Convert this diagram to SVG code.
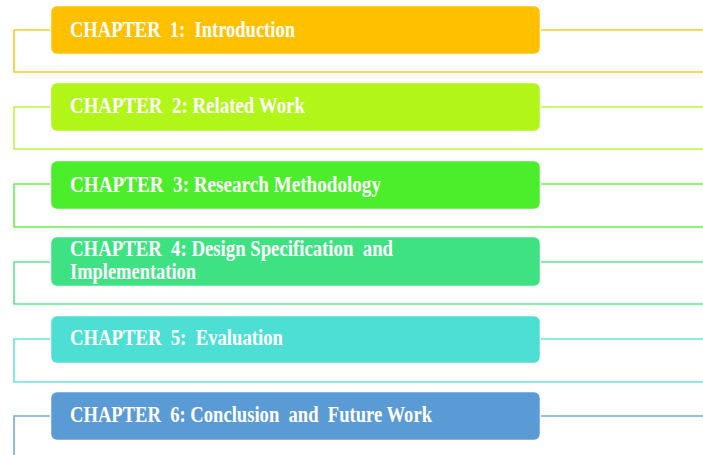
<svg xmlns="http://www.w3.org/2000/svg" width="703" height="455" viewBox="0 0 703 455" xml:space="preserve">
  <style>
    .box { stroke: #ffffff; stroke-opacity: 0.5; stroke-width: 1; }
    .lbl { font-family: "Liberation Serif", "Times New Roman", serif; font-weight: bold; font-size: 24px; fill: #ffffff; white-space: pre; }
    .con { fill: none; stroke-width: 1.6; stroke-opacity: 0.85; }
  </style>
  <rect width="703" height="455" fill="#ffffff"/>

  <!-- connectors: left brackets and right leaders -->
  <g id="connectors">
    <path class="con" stroke="#FFC000" d="M50,30 H14 V72 H703 M541,30 H703"/>
    <path class="con" stroke="#B2F519" d="M50,107 H14 V149 H703 M541,107 H703"/>
    <path class="con" stroke="#4CEE2B" d="M50,184 H14 V227 H703 M541,184 H703"/>
    <path class="con" stroke="#3EE283" d="M50,262 H14 V304 H703 M541,262 H703"/>
    <path class="con" stroke="#4DDFD3" d="M50,339 H14 V382 H703 M541,339 H703"/>
    <path class="con" stroke="#5B9BD5" d="M50,416 H14 V455 M541,416 H703"/>
  </g>

  <g id="chapter1">
    <rect class="box" x="51" y="6" width="489" height="48" rx="6" fill="#FFC000"/>
    <text class="lbl" x="70" y="37" textLength="225" lengthAdjust="spacingAndGlyphs">CHAPTER  1:  Introduction</text>
  </g>
  <g id="chapter2">
    <rect class="box" x="51" y="83" width="489" height="48" rx="6" fill="#B2F519"/>
    <text class="lbl" x="70" y="113" textLength="235" lengthAdjust="spacingAndGlyphs">CHAPTER  2: Related Work</text>
  </g>
  <g id="chapter3">
    <rect class="box" x="51" y="161" width="489" height="48" rx="6" fill="#4CEE2B"/>
    <text class="lbl" x="70" y="192" textLength="311" lengthAdjust="spacingAndGlyphs">CHAPTER  3: Research Methodology</text>
  </g>
  <g id="chapter4">
    <rect class="box" x="51" y="237" width="489" height="49" rx="6" fill="#3EE283"/>
    <!-- two-line label, one text element -->
    <text class="lbl" style="font-size:23px"><tspan x="70" y="256" textLength="323" lengthAdjust="spacingAndGlyphs">CHAPTER  4: Design Specification  and</tspan><tspan x="70" y="279" textLength="126" lengthAdjust="spacingAndGlyphs">Implementation</tspan></text>
  </g>
  <g id="chapter5">
    <rect class="box" x="51" y="316" width="489" height="47" rx="6" fill="#4DDFD3"/>
    <text class="lbl" x="70" y="345" textLength="213" lengthAdjust="spacingAndGlyphs">CHAPTER  5:  Evaluation</text>
  </g>
  <g id="chapter6">
    <rect class="box" x="51" y="392" width="489" height="48" rx="6" fill="#5B9BD5"/>
    <text class="lbl" x="70" y="422" textLength="362" lengthAdjust="spacingAndGlyphs">CHAPTER  6: Conclusion  and  Future Work</text>
  </g>
</svg>
